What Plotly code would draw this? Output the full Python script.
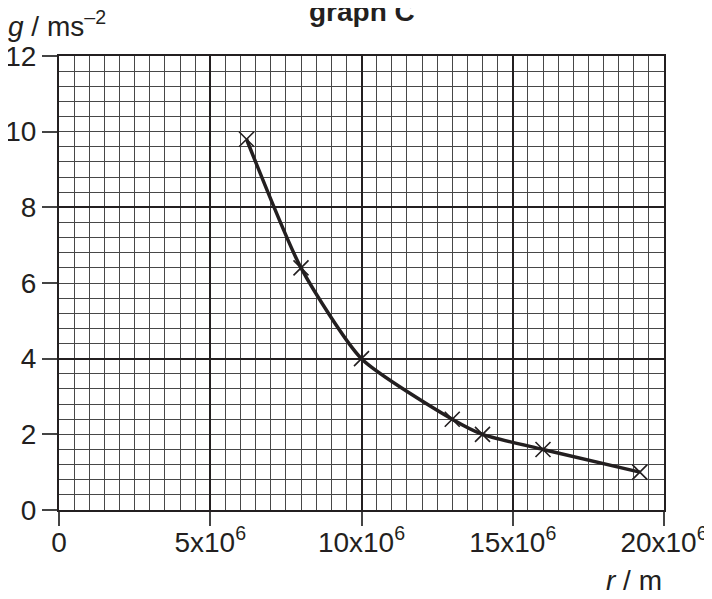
import plotly.graph_objects as go

r_vals = [6.2e6, 8.0e6, 10.0e6, 13.0e6, 14.0e6, 16.0e6, 19.2e6]
g_vals = [9.8, 6.4, 4.0, 2.4, 2.0, 1.6, 1.0]

x_tickvals = [0, 5e6, 10e6, 15e6, 20e6]
x_ticktext = ["0", "5x10<sup>6</sup>", "10x10<sup>6</sup>", "15x10<sup>6</sup>", "20x10<sup>6</sup>"]
y_tickvals = [0, 2, 4, 6, 8, 10, 12]
y_ticktext = ["0", "2", "4", "6", "8", "10", "12"]

ink = "#231f20"
fam = "Liberation Sans, Arial, sans-serif"
font = dict(family=fam, size=28, color=ink)

# page is drawn with an 8px body margin; plot area aligned to reference pixels
L, T, W, H = 59, 56, 605, 454
OFF = 8

def px(xp):
    return (xp - L) / W

def py(yp):
    return (T + H - yp) / H

fig = go.Figure()
fig.add_trace(go.Scatter(
    x=r_vals, y=g_vals, mode="lines",
    line=dict(color=ink, width=3.5, shape="spline", smoothing=0.6),
    hoverinfo="skip", showlegend=False))
fig.add_trace(go.Scatter(
    x=r_vals, y=g_vals, mode="markers",
    marker=dict(symbol="x-thin", size=15, line=dict(color=ink, width=1.6)),
    showlegend=False))
fig.add_trace(go.Scatter(x=[None], y=[None], yaxis="y2", showlegend=False, hoverinfo="skip"))

fig.update_layout(
    width=712 - OFF, height=599 - OFF,
    margin=dict(l=L - OFF, r=712 - OFF - (L - OFF) - W, t=T - OFF, b=599 - OFF - (T - OFF) - H),
    paper_bgcolor="white", plot_bgcolor="white",
    font=font,
    xaxis=dict(
        range=[0, 20e6], tickvals=x_tickvals, ticktext=x_ticktext,
        ticks="outside", ticklen=14, tickwidth=1.5, tickcolor="#444",
        ticklabelstandoff=-8,
        showgrid=True, gridcolor=ink, gridwidth=1.8,
        showline=True, linecolor=ink, linewidth=2.2, mirror=True,
        zeroline=False, tickfont=font, automargin=False,
        minor=dict(dtick=0.5e6, tick0=0, showgrid=True, gridcolor="#474747", gridwidth=1, ticks=""),
    ),
    yaxis=dict(
        range=[0, 12], tickvals=y_tickvals, ticktext=y_ticktext,
        ticks="outside", ticklen=15, tickwidth=1.5, tickcolor="#444",
        showgrid=False,
        showline=True, linecolor=ink, linewidth=2.2, mirror=True,
        zeroline=False, tickfont=font, automargin=False,
        minor=dict(dtick=0.4, tick0=0, showgrid=True, gridcolor="#474747", gridwidth=1, ticks=""),
    ),
    yaxis2=dict(
        range=[0, 12], overlaying="y", side="left", dtick=4, tick0=0,
        showgrid=True, gridcolor=ink, gridwidth=1.8,
        showticklabels=False, ticks="", zeroline=False, showline=False,
    ),
    annotations=[
        dict(text="<b>graph C</b>", xref="paper", yref="paper", x=px(362), y=py(12),
             xanchor="center", yanchor="middle", showarrow=False,
             font=dict(family=fam, size=28, color=ink)),
        dict(text="<i>g</i> / ms<sup>–2</sup>", xref="paper", yref="paper", x=px(6), y=py(24),
             xanchor="left", yanchor="middle", showarrow=False, font=font),
        dict(text="<i>r</i> / m", xref="paper", yref="paper", x=px(664), y=py(580),
             xanchor="right", yanchor="middle", showarrow=False, font=font),
    ],
)

fig.write_html("out.html")
